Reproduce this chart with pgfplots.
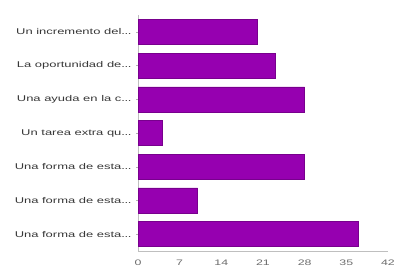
\documentclass[border=0pt]{standalone}
\usepackage{pgfplots}
\pgfplotsset{compat=1.18}
\usepackage{fontspec}
\setmainfont[FakeStretch=1.55]{Liberation Sans}
\definecolor{barpurple}{RGB}{150,0,176}
\definecolor{txt}{RGB}{55,55,55}
\newcommand{\el}{.\kern-0.4pt.\kern-0.4pt.}
\begin{document}
\begin{tikzpicture}
\path[use as bounding box] (0,0) rectangle (397bp,275bp);
\begin{axis}[
  at={(138bp,24bp)}, anchor=south west,
  scale only axis, width=250bp, height=236bp,
  xbar, bar width=25bp,
  xmin=0, xmax=42, xtick={0,7,14,21,28,35,42},
  ymin=-0.5, ymax=6.5, ytick={0,1,2,3,4,5,6}, y dir=reverse,
  yticklabels={Un incremento del\el,La oportunidad de\el,Una ayuda en la c\el,Un tarea extra qu\el,Una forma de esta\el,Una forma de esta\el,Una forma de esta\el},
  /pgf/number format/assume math mode=true,
  axis x line*=bottom, axis y line*=left,
  axis line style={draw=gray!50},
  x axis line style={-}, y axis line style={-},
  xtick style={draw=none},
  ytick style={draw=gray!60, line width=0.4pt},
  major tick length=2bp,
  tick align=outside,
  xticklabel style={font=\fontsize{8}{9}\selectfont, text=gray!85!black, yshift=-3bp},
  yticklabel style={font=\fontsize{8.4}{9}\selectfont, text=txt, xshift=-1bp},
]
\addplot[fill=barpurple, draw=barpurple!80!black] coordinates {(20,0) (23,1) (28,2) (4,3) (28,4) (10,5) (37,6)};
\end{axis}
\end{tikzpicture}
\end{document}
